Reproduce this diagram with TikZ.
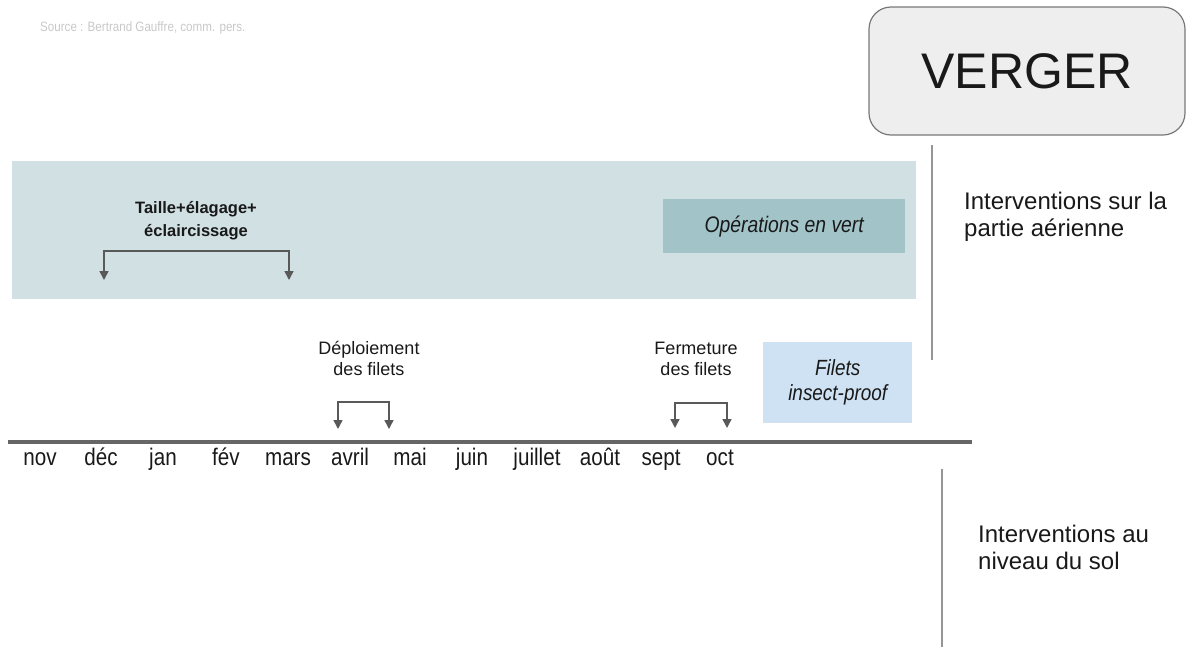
\documentclass[tikz,border=0pt]{standalone}
\usepackage{fontspec}
\setmainfont{Liberation Sans}
\newfontfamily\narrowsans[FakeStretch=0.86]{Liberation Sans}
\usetikzlibrary{arrows.meta}

\definecolor{panelbg}{RGB}{208,224,227}
\definecolor{greenop}{RGB}{162,196,201}
\definecolor{netbox}{RGB}{207,226,243}
\definecolor{arrowgrey}{RGB}{89,89,89}
\definecolor{axisgrey}{RGB}{102,102,102}
\definecolor{rulegrey}{RGB}{150,150,150}
\definecolor{boxgrey}{RGB}{238,238,238}
\definecolor{boxedge}{RGB}{120,120,120}
\definecolor{srcgrey}{RGB}{200,200,200}
\definecolor{ink}{RGB}{25,25,25}

\begin{document}
\begin{tikzpicture}[x=1pt,y=-1pt,
  bracket/.style={draw=arrowgrey, line width=1.5pt,
    {Triangle[width=9pt,length=9pt]}-{Triangle[width=9pt,length=9pt]}},
  month/.style={font=\narrowsans\fontsize{24}{24}\selectfont, anchor=base,
    inner sep=0pt, text=ink},
  eventlabel/.style={font=\fontsize{18}{21}\selectfont, align=center,
    inner sep=0pt, text=ink},
  sidelabel/.style={font=\fontsize{24}{27}\selectfont, align=left,
    inner sep=0pt, anchor=west, text=ink},
  band/.style={inner sep=0pt, anchor=north west, draw=none},
  sideline/.style={draw=rulegrey, line width=1.5pt}
]
\useasboundingbox (0,0) rectangle (1188,648);

% source line
\node[anchor=base west, inner sep=0pt, text=srcgrey,
  font=\narrowsans\fontsize{13.5}{14}\selectfont] (source) at (40,31)
  {Source : Bertrand Gauffre, comm. pers.};

% title box
\node[draw=boxedge, fill=boxgrey, line width=1.2pt, rounded corners=22pt,
  minimum width=316pt, minimum height=128pt, inner sep=0pt,
  font=\fontsize{50}{50}\selectfont, text=ink] (verger) at (1027,71) {VERGER};

% aerial operations panel
\node[band, fill=panelbg, minimum width=904pt, minimum height=138pt]
  (panel) at (12,161) {};
\node[band, fill=greenop, minimum width=242pt, minimum height=54pt]
  (green) at (663,199) {};
\node[font=\narrowsans\itshape\fontsize{22.5}{24}\selectfont, text=ink,
  inner sep=0pt] (greenlbl) at (green.center) {Opérations en vert};

\node[font=\bfseries\fontsize{16.5}{23}\selectfont, align=center,
  inner sep=0pt, text=ink] (prune) at (196,221)
  {Taille+élagage+\\éclaircissage};
\coordinate (prune-a) at (104,280);
\coordinate (prune-b) at (289,280);
\draw[bracket] (prune-a) -- ++(0,-29) -| (prune-b);

% insect-proof nets
\node[band, fill=netbox, minimum width=149pt, minimum height=81pt]
  (nets) at (763,342) {};
\node[font=\narrowsans\itshape\fontsize{22}{25}\selectfont, align=center,
  inner sep=0pt, text=ink] (netslbl) at (nets.center) {Filets\\insect-proof};

\node[eventlabel] (deploy) at (369,358) {Déploiement\\des filets};
\coordinate (deploy-a) at (338,429);
\coordinate (deploy-b) at (389,429);
\draw[bracket] (deploy-a) -- ++(0,-27) -| (deploy-b);

\node[eventlabel] (close) at (696,359) {Fermeture\\des filets};
\coordinate (close-a) at (675,428);
\coordinate (close-b) at (727,428);
\draw[bracket] (close-a) -- ++(0,-25) -| (close-b);

% time axis
\coordinate (axis-start) at (8,442);
\coordinate (axis-end) at (972,442);
\draw[draw=axisgrey, line width=3.5pt] (axis-start) -- (axis-end);

\foreach \m/\x in {nov/40, déc/101, jan/163, fév/226, mars/288, avril/350,
  mai/410, juin/472, juillet/537, août/600, sept/661, oct/720}
  \node[month] (m-\x) at (\x,465) {\m};

% side separators and labels
\coordinate (upper-top) at (932,145);
\coordinate (upper-bot) at (932,360);
\draw[sideline] (upper-top) -- (upper-bot);
\coordinate (lower-top) at (942,469);
\coordinate (lower-bot) at (942,647);
\draw[sideline] (lower-top) -- (lower-bot);

\node[sidelabel] (aerial) at (964,217) {Interventions sur la\\partie aérienne};
\node[sidelabel] (ground) at (978,547) {Interventions au\\niveau du sol};
\end{tikzpicture}
\end{document}
